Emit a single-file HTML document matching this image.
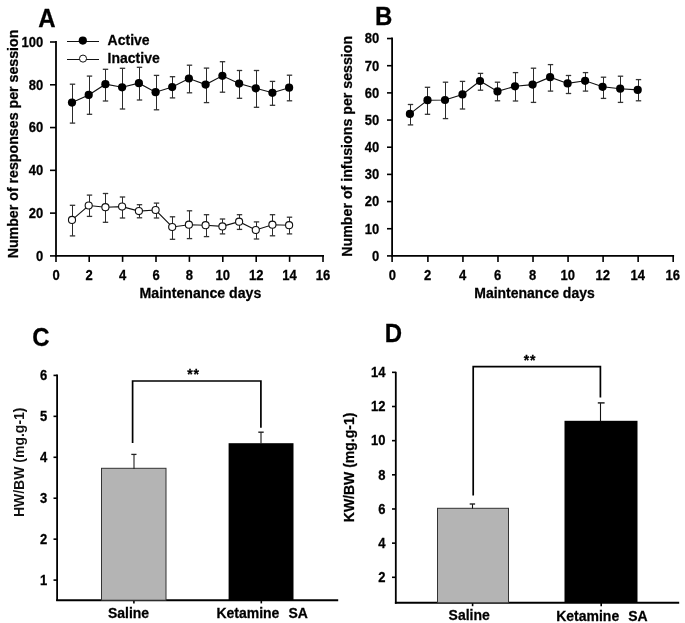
<!DOCTYPE html>
<html><head><meta charset="utf-8"><style>
html,body{margin:0;padding:0;background:#fff;width:685px;height:623px;overflow:hidden;}
svg{display:block;will-change:transform;filter:blur(0.35px);}
text{font-family:"Liberation Sans", sans-serif;stroke:#000;stroke-width:0.25px;}
</style></head><body>
<svg width="685" height="623" viewBox="0 0 685 623">
<rect width="685" height="623" fill="#fff"/>
<text transform="translate(38.20,26.80) scale(1,1.05)" font-size="24" font-weight="bold" text-anchor="start" >A</text>
<line x1="56" y1="41.1" x2="56" y2="256.8" stroke="#000" stroke-width="1.8"/>
<line x1="50" y1="255.9" x2="56" y2="255.9" stroke="#000" stroke-width="1.6"/>
<text transform="translate(43.30,260.70) scale(1,1.12)" font-size="13" font-weight="bold" text-anchor="end" >0</text>
<line x1="50" y1="213.12" x2="56" y2="213.12" stroke="#000" stroke-width="1.6"/>
<text transform="translate(43.30,217.92) scale(1,1.12)" font-size="13" font-weight="bold" text-anchor="end" >20</text>
<line x1="50" y1="170.34" x2="56" y2="170.34" stroke="#000" stroke-width="1.6"/>
<text transform="translate(43.30,175.14) scale(1,1.12)" font-size="13" font-weight="bold" text-anchor="end" >40</text>
<line x1="50" y1="127.56" x2="56" y2="127.56" stroke="#000" stroke-width="1.6"/>
<text transform="translate(43.30,132.36) scale(1,1.12)" font-size="13" font-weight="bold" text-anchor="end" >60</text>
<line x1="50" y1="84.78" x2="56" y2="84.78" stroke="#000" stroke-width="1.6"/>
<text transform="translate(43.30,89.58) scale(1,1.12)" font-size="13" font-weight="bold" text-anchor="end" >80</text>
<line x1="50" y1="42" x2="56" y2="42" stroke="#000" stroke-width="1.6"/>
<text transform="translate(43.30,46.80) scale(1,1.12)" font-size="13" font-weight="bold" text-anchor="end" >100</text>
<line x1="55.1" y1="255.9" x2="324" y2="255.9" stroke="#000" stroke-width="1.8"/>
<line x1="56" y1="255.9" x2="56" y2="261.9" stroke="#000" stroke-width="1.6"/>
<text transform="translate(56.00,280.20) scale(1,1.12)" font-size="13" font-weight="bold" text-anchor="middle" >0</text>
<line x1="89.2" y1="255.9" x2="89.2" y2="261.9" stroke="#000" stroke-width="1.6"/>
<text transform="translate(89.20,280.20) scale(1,1.12)" font-size="13" font-weight="bold" text-anchor="middle" >2</text>
<line x1="122.6" y1="255.9" x2="122.6" y2="261.9" stroke="#000" stroke-width="1.6"/>
<text transform="translate(122.60,280.20) scale(1,1.12)" font-size="13" font-weight="bold" text-anchor="middle" >4</text>
<line x1="156" y1="255.9" x2="156" y2="261.9" stroke="#000" stroke-width="1.6"/>
<text transform="translate(156.00,280.20) scale(1,1.12)" font-size="13" font-weight="bold" text-anchor="middle" >6</text>
<line x1="189.4" y1="255.9" x2="189.4" y2="261.9" stroke="#000" stroke-width="1.6"/>
<text transform="translate(189.40,280.20) scale(1,1.12)" font-size="13" font-weight="bold" text-anchor="middle" >8</text>
<line x1="222.8" y1="255.9" x2="222.8" y2="261.9" stroke="#000" stroke-width="1.6"/>
<text transform="translate(222.80,280.20) scale(1,1.12)" font-size="13" font-weight="bold" text-anchor="middle" >10</text>
<line x1="256.2" y1="255.9" x2="256.2" y2="261.9" stroke="#000" stroke-width="1.6"/>
<text transform="translate(256.20,280.20) scale(1,1.12)" font-size="13" font-weight="bold" text-anchor="middle" >12</text>
<line x1="289.6" y1="255.9" x2="289.6" y2="261.9" stroke="#000" stroke-width="1.6"/>
<text transform="translate(289.60,280.20) scale(1,1.12)" font-size="13" font-weight="bold" text-anchor="middle" >14</text>
<line x1="323" y1="255.9" x2="323" y2="261.9" stroke="#000" stroke-width="1.6"/>
<text transform="translate(323.00,280.20) scale(1,1.12)" font-size="13" font-weight="bold" text-anchor="middle" >16</text>
<text transform="translate(200.40,297.60) scale(1,1.05)" font-size="14.15" font-weight="bold" text-anchor="middle" >Maintenance days</text>
<text transform="translate(17.60,144.00) rotate(-90) scale(1,1.05)" font-size="14.2" font-weight="bold" text-anchor="middle" >Number of responses per session</text>
<polyline points="72.05,102.6 88.75,94.9 105.45,84.2 122.15,87.3 138.85,83.2 155.55,92.2 172.25,87.1 188.95,78.5 205.65,84.6 222.35,75.8 239.05,83.6 255.75,88.3 272.45,92.8 289.15,87.7" fill="none" stroke="#111" stroke-width="1.1"/>
<line x1="72.5" y1="84.2" x2="72.5" y2="123.1" stroke="#2a2a2a" stroke-width="1.0"/>
<line x1="69.8" y1="84.2" x2="75.2" y2="84.2" stroke="#333" stroke-width="1.3"/>
<line x1="69.8" y1="123.1" x2="75.2" y2="123.1" stroke="#333" stroke-width="1.3"/>
<line x1="89.5" y1="76.1" x2="89.5" y2="114.3" stroke="#2a2a2a" stroke-width="1.0"/>
<line x1="86.8" y1="76.1" x2="92.2" y2="76.1" stroke="#333" stroke-width="1.3"/>
<line x1="86.8" y1="114.3" x2="92.2" y2="114.3" stroke="#333" stroke-width="1.3"/>
<line x1="105.5" y1="69.3" x2="105.5" y2="101" stroke="#2a2a2a" stroke-width="1.0"/>
<line x1="102.8" y1="69.3" x2="108.2" y2="69.3" stroke="#333" stroke-width="1.3"/>
<line x1="102.8" y1="101" x2="108.2" y2="101" stroke="#333" stroke-width="1.3"/>
<line x1="122.5" y1="68.3" x2="122.5" y2="109" stroke="#2a2a2a" stroke-width="1.0"/>
<line x1="119.8" y1="68.3" x2="125.2" y2="68.3" stroke="#333" stroke-width="1.3"/>
<line x1="119.8" y1="109" x2="125.2" y2="109" stroke="#333" stroke-width="1.3"/>
<line x1="139.5" y1="67.3" x2="139.5" y2="100" stroke="#2a2a2a" stroke-width="1.0"/>
<line x1="136.8" y1="67.3" x2="142.2" y2="67.3" stroke="#333" stroke-width="1.3"/>
<line x1="136.8" y1="100" x2="142.2" y2="100" stroke="#333" stroke-width="1.3"/>
<line x1="156.5" y1="75.4" x2="156.5" y2="109.8" stroke="#2a2a2a" stroke-width="1.0"/>
<line x1="153.8" y1="75.4" x2="159.2" y2="75.4" stroke="#333" stroke-width="1.3"/>
<line x1="153.8" y1="109.8" x2="159.2" y2="109.8" stroke="#333" stroke-width="1.3"/>
<line x1="172.5" y1="76.7" x2="172.5" y2="97.9" stroke="#2a2a2a" stroke-width="1.0"/>
<line x1="169.8" y1="76.7" x2="175.2" y2="76.7" stroke="#333" stroke-width="1.3"/>
<line x1="169.8" y1="97.9" x2="175.2" y2="97.9" stroke="#333" stroke-width="1.3"/>
<line x1="189.5" y1="65.2" x2="189.5" y2="92.8" stroke="#2a2a2a" stroke-width="1.0"/>
<line x1="186.8" y1="65.2" x2="192.2" y2="65.2" stroke="#333" stroke-width="1.3"/>
<line x1="186.8" y1="92.8" x2="192.2" y2="92.8" stroke="#333" stroke-width="1.3"/>
<line x1="206.5" y1="68.1" x2="206.5" y2="102.6" stroke="#2a2a2a" stroke-width="1.0"/>
<line x1="203.8" y1="68.1" x2="209.2" y2="68.1" stroke="#333" stroke-width="1.3"/>
<line x1="203.8" y1="102.6" x2="209.2" y2="102.6" stroke="#333" stroke-width="1.3"/>
<line x1="222.5" y1="61.7" x2="222.5" y2="92.2" stroke="#2a2a2a" stroke-width="1.0"/>
<line x1="219.8" y1="61.7" x2="225.2" y2="61.7" stroke="#333" stroke-width="1.3"/>
<line x1="219.8" y1="92.2" x2="225.2" y2="92.2" stroke="#333" stroke-width="1.3"/>
<line x1="239.5" y1="70.5" x2="239.5" y2="98.3" stroke="#2a2a2a" stroke-width="1.0"/>
<line x1="236.8" y1="70.5" x2="242.2" y2="70.5" stroke="#333" stroke-width="1.3"/>
<line x1="236.8" y1="98.3" x2="242.2" y2="98.3" stroke="#333" stroke-width="1.3"/>
<line x1="256.5" y1="70.5" x2="256.5" y2="107.3" stroke="#2a2a2a" stroke-width="1.0"/>
<line x1="253.8" y1="70.5" x2="259.2" y2="70.5" stroke="#333" stroke-width="1.3"/>
<line x1="253.8" y1="107.3" x2="259.2" y2="107.3" stroke="#333" stroke-width="1.3"/>
<line x1="272.5" y1="81.4" x2="272.5" y2="105.3" stroke="#2a2a2a" stroke-width="1.0"/>
<line x1="269.8" y1="81.4" x2="275.2" y2="81.4" stroke="#333" stroke-width="1.3"/>
<line x1="269.8" y1="105.3" x2="275.2" y2="105.3" stroke="#333" stroke-width="1.3"/>
<line x1="289.5" y1="75.2" x2="289.5" y2="100.8" stroke="#2a2a2a" stroke-width="1.0"/>
<line x1="286.8" y1="75.2" x2="292.2" y2="75.2" stroke="#333" stroke-width="1.3"/>
<line x1="286.8" y1="100.8" x2="292.2" y2="100.8" stroke="#333" stroke-width="1.3"/>
<circle cx="72.0" cy="102.6" r="4.1" fill="#000"/>
<circle cx="88.7" cy="94.9" r="4.1" fill="#000"/>
<circle cx="105.4" cy="84.2" r="4.1" fill="#000"/>
<circle cx="122.1" cy="87.3" r="4.1" fill="#000"/>
<circle cx="138.9" cy="83.2" r="4.1" fill="#000"/>
<circle cx="155.6" cy="92.2" r="4.1" fill="#000"/>
<circle cx="172.2" cy="87.1" r="4.1" fill="#000"/>
<circle cx="188.9" cy="78.5" r="4.1" fill="#000"/>
<circle cx="205.6" cy="84.6" r="4.1" fill="#000"/>
<circle cx="222.4" cy="75.8" r="4.1" fill="#000"/>
<circle cx="239.1" cy="83.6" r="4.1" fill="#000"/>
<circle cx="255.8" cy="88.3" r="4.1" fill="#000"/>
<circle cx="272.4" cy="92.8" r="4.1" fill="#000"/>
<circle cx="289.1" cy="87.7" r="4.1" fill="#000"/>
<polyline points="72.05,219.9 88.75,205.5 105.45,207.2 122.15,206.6 138.85,211.1 155.55,210 172.25,227 188.95,224.7 205.65,225.2 222.35,226.4 239.05,221.7 255.75,230 272.45,224.7 289.15,225.2" fill="none" stroke="#111" stroke-width="1.1"/>
<line x1="72.5" y1="205.3" x2="72.5" y2="235.9" stroke="#2a2a2a" stroke-width="1.0"/>
<line x1="69.8" y1="205.3" x2="75.2" y2="205.3" stroke="#333" stroke-width="1.3"/>
<line x1="69.8" y1="235.9" x2="75.2" y2="235.9" stroke="#333" stroke-width="1.3"/>
<line x1="89.5" y1="195.1" x2="89.5" y2="216.4" stroke="#2a2a2a" stroke-width="1.0"/>
<line x1="86.8" y1="195.1" x2="92.2" y2="195.1" stroke="#333" stroke-width="1.3"/>
<line x1="86.8" y1="216.4" x2="92.2" y2="216.4" stroke="#333" stroke-width="1.3"/>
<line x1="105.5" y1="193.5" x2="105.5" y2="222.3" stroke="#2a2a2a" stroke-width="1.0"/>
<line x1="102.8" y1="193.5" x2="108.2" y2="193.5" stroke="#333" stroke-width="1.3"/>
<line x1="102.8" y1="222.3" x2="108.2" y2="222.3" stroke="#333" stroke-width="1.3"/>
<line x1="122.5" y1="197" x2="122.5" y2="218" stroke="#2a2a2a" stroke-width="1.0"/>
<line x1="119.8" y1="197" x2="125.2" y2="197" stroke="#333" stroke-width="1.3"/>
<line x1="119.8" y1="218" x2="125.2" y2="218" stroke="#333" stroke-width="1.3"/>
<line x1="139.5" y1="204.7" x2="139.5" y2="217.8" stroke="#2a2a2a" stroke-width="1.0"/>
<line x1="136.8" y1="204.7" x2="142.2" y2="204.7" stroke="#333" stroke-width="1.3"/>
<line x1="136.8" y1="217.8" x2="142.2" y2="217.8" stroke="#333" stroke-width="1.3"/>
<line x1="156.5" y1="203.1" x2="156.5" y2="218" stroke="#2a2a2a" stroke-width="1.0"/>
<line x1="153.8" y1="203.1" x2="159.2" y2="203.1" stroke="#333" stroke-width="1.3"/>
<line x1="153.8" y1="218" x2="159.2" y2="218" stroke="#333" stroke-width="1.3"/>
<line x1="172.5" y1="216.8" x2="172.5" y2="239.3" stroke="#2a2a2a" stroke-width="1.0"/>
<line x1="169.8" y1="216.8" x2="175.2" y2="216.8" stroke="#333" stroke-width="1.3"/>
<line x1="169.8" y1="239.3" x2="175.2" y2="239.3" stroke="#333" stroke-width="1.3"/>
<line x1="189.5" y1="210.8" x2="189.5" y2="238.6" stroke="#2a2a2a" stroke-width="1.0"/>
<line x1="186.8" y1="210.8" x2="192.2" y2="210.8" stroke="#333" stroke-width="1.3"/>
<line x1="186.8" y1="238.6" x2="192.2" y2="238.6" stroke="#333" stroke-width="1.3"/>
<line x1="206.5" y1="214.7" x2="206.5" y2="236.6" stroke="#2a2a2a" stroke-width="1.0"/>
<line x1="203.8" y1="214.7" x2="209.2" y2="214.7" stroke="#333" stroke-width="1.3"/>
<line x1="203.8" y1="236.6" x2="209.2" y2="236.6" stroke="#333" stroke-width="1.3"/>
<line x1="222.5" y1="219" x2="222.5" y2="233.9" stroke="#2a2a2a" stroke-width="1.0"/>
<line x1="219.8" y1="219" x2="225.2" y2="219" stroke="#333" stroke-width="1.3"/>
<line x1="219.8" y1="233.9" x2="225.2" y2="233.9" stroke="#333" stroke-width="1.3"/>
<line x1="239.5" y1="214.7" x2="239.5" y2="229.4" stroke="#2a2a2a" stroke-width="1.0"/>
<line x1="236.8" y1="214.7" x2="242.2" y2="214.7" stroke="#333" stroke-width="1.3"/>
<line x1="236.8" y1="229.4" x2="242.2" y2="229.4" stroke="#333" stroke-width="1.3"/>
<line x1="256.5" y1="221.9" x2="256.5" y2="239" stroke="#2a2a2a" stroke-width="1.0"/>
<line x1="253.8" y1="221.9" x2="259.2" y2="221.9" stroke="#333" stroke-width="1.3"/>
<line x1="253.8" y1="239" x2="259.2" y2="239" stroke="#333" stroke-width="1.3"/>
<line x1="272.5" y1="214.7" x2="272.5" y2="235.8" stroke="#2a2a2a" stroke-width="1.0"/>
<line x1="269.8" y1="214.7" x2="275.2" y2="214.7" stroke="#333" stroke-width="1.3"/>
<line x1="269.8" y1="235.8" x2="275.2" y2="235.8" stroke="#333" stroke-width="1.3"/>
<line x1="289.5" y1="217.2" x2="289.5" y2="233.9" stroke="#2a2a2a" stroke-width="1.0"/>
<line x1="286.8" y1="217.2" x2="292.2" y2="217.2" stroke="#333" stroke-width="1.3"/>
<line x1="286.8" y1="233.9" x2="292.2" y2="233.9" stroke="#333" stroke-width="1.3"/>
<circle cx="72.0" cy="219.9" r="3.55" fill="#fff" stroke="#111" stroke-width="1.1"/>
<circle cx="88.7" cy="205.5" r="3.55" fill="#fff" stroke="#111" stroke-width="1.1"/>
<circle cx="105.4" cy="207.2" r="3.55" fill="#fff" stroke="#111" stroke-width="1.1"/>
<circle cx="122.1" cy="206.6" r="3.55" fill="#fff" stroke="#111" stroke-width="1.1"/>
<circle cx="138.9" cy="211.1" r="3.55" fill="#fff" stroke="#111" stroke-width="1.1"/>
<circle cx="155.6" cy="210" r="3.55" fill="#fff" stroke="#111" stroke-width="1.1"/>
<circle cx="172.2" cy="227" r="3.55" fill="#fff" stroke="#111" stroke-width="1.1"/>
<circle cx="188.9" cy="224.7" r="3.55" fill="#fff" stroke="#111" stroke-width="1.1"/>
<circle cx="205.6" cy="225.2" r="3.55" fill="#fff" stroke="#111" stroke-width="1.1"/>
<circle cx="222.4" cy="226.4" r="3.55" fill="#fff" stroke="#111" stroke-width="1.1"/>
<circle cx="239.1" cy="221.7" r="3.55" fill="#fff" stroke="#111" stroke-width="1.1"/>
<circle cx="255.8" cy="230" r="3.55" fill="#fff" stroke="#111" stroke-width="1.1"/>
<circle cx="272.4" cy="224.7" r="3.55" fill="#fff" stroke="#111" stroke-width="1.1"/>
<circle cx="289.1" cy="225.2" r="3.55" fill="#fff" stroke="#111" stroke-width="1.1"/>
<line x1="67" y1="41.5" x2="99" y2="41.5" stroke="#111" stroke-width="1.0"/>
<circle cx="82.8" cy="40.6" r="4.1" fill="#000"/>
<line x1="67" y1="59.5" x2="99" y2="59.5" stroke="#111" stroke-width="1.0"/>
<circle cx="83" cy="58.6" r="3.55" fill="#fff" stroke="#111" stroke-width="1.0"/>
<text transform="translate(107.60,45.20) scale(1,1.05)" font-size="14" font-weight="bold" text-anchor="start" >Active</text>
<text transform="translate(107.60,63.20) scale(1,1.05)" font-size="14" font-weight="bold" text-anchor="start" >Inactive</text>
<text transform="translate(374.90,24.60) scale(1,1.05)" font-size="24" font-weight="bold" text-anchor="start" >B</text>
<line x1="392.1" y1="37.4" x2="392.1" y2="256.8" stroke="#000" stroke-width="1.8"/>
<line x1="387" y1="255.9" x2="392.1" y2="255.9" stroke="#000" stroke-width="1.6"/>
<text transform="translate(379.30,260.70) scale(1,1.12)" font-size="13" font-weight="bold" text-anchor="end" >0</text>
<line x1="387" y1="228.73" x2="392.1" y2="228.73" stroke="#000" stroke-width="1.6"/>
<text transform="translate(379.30,233.53) scale(1,1.12)" font-size="13" font-weight="bold" text-anchor="end" >10</text>
<line x1="387" y1="201.56" x2="392.1" y2="201.56" stroke="#000" stroke-width="1.6"/>
<text transform="translate(379.30,206.36) scale(1,1.12)" font-size="13" font-weight="bold" text-anchor="end" >20</text>
<line x1="387" y1="174.39" x2="392.1" y2="174.39" stroke="#000" stroke-width="1.6"/>
<text transform="translate(379.30,179.19) scale(1,1.12)" font-size="13" font-weight="bold" text-anchor="end" >30</text>
<line x1="387" y1="147.22" x2="392.1" y2="147.22" stroke="#000" stroke-width="1.6"/>
<text transform="translate(379.30,152.02) scale(1,1.12)" font-size="13" font-weight="bold" text-anchor="end" >40</text>
<line x1="387" y1="120.05" x2="392.1" y2="120.05" stroke="#000" stroke-width="1.6"/>
<text transform="translate(379.30,124.85) scale(1,1.12)" font-size="13" font-weight="bold" text-anchor="end" >50</text>
<line x1="387" y1="92.88" x2="392.1" y2="92.88" stroke="#000" stroke-width="1.6"/>
<text transform="translate(379.30,97.68) scale(1,1.12)" font-size="13" font-weight="bold" text-anchor="end" >60</text>
<line x1="387" y1="65.71" x2="392.1" y2="65.71" stroke="#000" stroke-width="1.6"/>
<text transform="translate(379.30,70.51) scale(1,1.12)" font-size="13" font-weight="bold" text-anchor="end" >70</text>
<line x1="387" y1="38.54" x2="392.1" y2="38.54" stroke="#000" stroke-width="1.6"/>
<text transform="translate(379.30,43.34) scale(1,1.12)" font-size="13" font-weight="bold" text-anchor="end" >80</text>
<line x1="391.2" y1="255.9" x2="674.1" y2="255.9" stroke="#000" stroke-width="1.8"/>
<line x1="392.1" y1="255.9" x2="392.1" y2="261.9" stroke="#000" stroke-width="1.6"/>
<text transform="translate(392.46,280.20) scale(1,1.12)" font-size="13" font-weight="bold" text-anchor="middle" >0</text>
<line x1="427.9" y1="255.9" x2="427.9" y2="261.9" stroke="#000" stroke-width="1.6"/>
<text transform="translate(427.50,280.20) scale(1,1.12)" font-size="13" font-weight="bold" text-anchor="middle" >2</text>
<line x1="462.94" y1="255.9" x2="462.94" y2="261.9" stroke="#000" stroke-width="1.6"/>
<text transform="translate(462.54,280.20) scale(1,1.12)" font-size="13" font-weight="bold" text-anchor="middle" >4</text>
<line x1="497.98" y1="255.9" x2="497.98" y2="261.9" stroke="#000" stroke-width="1.6"/>
<text transform="translate(497.58,280.20) scale(1,1.12)" font-size="13" font-weight="bold" text-anchor="middle" >6</text>
<line x1="533.02" y1="255.9" x2="533.02" y2="261.9" stroke="#000" stroke-width="1.6"/>
<text transform="translate(532.62,280.20) scale(1,1.12)" font-size="13" font-weight="bold" text-anchor="middle" >8</text>
<line x1="568.06" y1="255.9" x2="568.06" y2="261.9" stroke="#000" stroke-width="1.6"/>
<text transform="translate(567.66,280.20) scale(1,1.12)" font-size="13" font-weight="bold" text-anchor="middle" >10</text>
<line x1="603.1" y1="255.9" x2="603.1" y2="261.9" stroke="#000" stroke-width="1.6"/>
<text transform="translate(602.70,280.20) scale(1,1.12)" font-size="13" font-weight="bold" text-anchor="middle" >12</text>
<line x1="638.14" y1="255.9" x2="638.14" y2="261.9" stroke="#000" stroke-width="1.6"/>
<text transform="translate(637.74,280.20) scale(1,1.12)" font-size="13" font-weight="bold" text-anchor="middle" >14</text>
<line x1="673.18" y1="255.9" x2="673.18" y2="261.9" stroke="#000" stroke-width="1.6"/>
<text transform="translate(672.78,280.20) scale(1,1.12)" font-size="13" font-weight="bold" text-anchor="middle" >16</text>
<text transform="translate(534.50,297.60) scale(1,1.05)" font-size="14" font-weight="bold" text-anchor="middle" >Maintenance days</text>
<text transform="translate(352.00,146.30) rotate(-90) scale(1,1.05)" font-size="14.2" font-weight="bold" text-anchor="middle" >Number of infusions per session</text>
<polyline points="409.93,113.9 427.45,100.2 444.97,100 462.49,94.4 480.01,81 497.53,91.4 515.05,86.3 532.57,84.6 550.09,77.2 567.61,83.4 585.13,80.8 602.65,86.8 620.17,88.7 637.69,89.9" fill="none" stroke="#111" stroke-width="1.1"/>
<line x1="410.5" y1="104.5" x2="410.5" y2="124.9" stroke="#2a2a2a" stroke-width="1.0"/>
<line x1="407.8" y1="104.5" x2="413.2" y2="104.5" stroke="#333" stroke-width="1.3"/>
<line x1="407.8" y1="124.9" x2="413.2" y2="124.9" stroke="#333" stroke-width="1.3"/>
<line x1="427.5" y1="87.3" x2="427.5" y2="114.3" stroke="#2a2a2a" stroke-width="1.0"/>
<line x1="424.8" y1="87.3" x2="430.2" y2="87.3" stroke="#333" stroke-width="1.3"/>
<line x1="424.8" y1="114.3" x2="430.2" y2="114.3" stroke="#333" stroke-width="1.3"/>
<line x1="445.5" y1="82.2" x2="445.5" y2="118.6" stroke="#2a2a2a" stroke-width="1.0"/>
<line x1="442.8" y1="82.2" x2="448.2" y2="82.2" stroke="#333" stroke-width="1.3"/>
<line x1="442.8" y1="118.6" x2="448.2" y2="118.6" stroke="#333" stroke-width="1.3"/>
<line x1="462.5" y1="81.4" x2="462.5" y2="109" stroke="#2a2a2a" stroke-width="1.0"/>
<line x1="459.8" y1="81.4" x2="465.2" y2="81.4" stroke="#333" stroke-width="1.3"/>
<line x1="459.8" y1="109" x2="465.2" y2="109" stroke="#333" stroke-width="1.3"/>
<line x1="480.5" y1="73.4" x2="480.5" y2="90.2" stroke="#2a2a2a" stroke-width="1.0"/>
<line x1="477.8" y1="73.4" x2="483.2" y2="73.4" stroke="#333" stroke-width="1.3"/>
<line x1="477.8" y1="90.2" x2="483.2" y2="90.2" stroke="#333" stroke-width="1.3"/>
<line x1="497.5" y1="82.2" x2="497.5" y2="100.8" stroke="#2a2a2a" stroke-width="1.0"/>
<line x1="494.8" y1="82.2" x2="500.2" y2="82.2" stroke="#333" stroke-width="1.3"/>
<line x1="494.8" y1="100.8" x2="500.2" y2="100.8" stroke="#333" stroke-width="1.3"/>
<line x1="515.5" y1="72.6" x2="515.5" y2="101" stroke="#2a2a2a" stroke-width="1.0"/>
<line x1="512.8" y1="72.6" x2="518.2" y2="72.6" stroke="#333" stroke-width="1.3"/>
<line x1="512.8" y1="101" x2="518.2" y2="101" stroke="#333" stroke-width="1.3"/>
<line x1="533.5" y1="68.2" x2="533.5" y2="102.4" stroke="#2a2a2a" stroke-width="1.0"/>
<line x1="530.8" y1="68.2" x2="536.2" y2="68.2" stroke="#333" stroke-width="1.3"/>
<line x1="530.8" y1="102.4" x2="536.2" y2="102.4" stroke="#333" stroke-width="1.3"/>
<line x1="550.5" y1="64.6" x2="550.5" y2="91.1" stroke="#2a2a2a" stroke-width="1.0"/>
<line x1="547.8" y1="64.6" x2="553.2" y2="64.6" stroke="#333" stroke-width="1.3"/>
<line x1="547.8" y1="91.1" x2="553.2" y2="91.1" stroke="#333" stroke-width="1.3"/>
<line x1="568.5" y1="75.5" x2="568.5" y2="93.5" stroke="#2a2a2a" stroke-width="1.0"/>
<line x1="565.8" y1="75.5" x2="571.2" y2="75.5" stroke="#333" stroke-width="1.3"/>
<line x1="565.8" y1="93.5" x2="571.2" y2="93.5" stroke="#333" stroke-width="1.3"/>
<line x1="585.5" y1="72.6" x2="585.5" y2="91.1" stroke="#2a2a2a" stroke-width="1.0"/>
<line x1="582.8" y1="72.6" x2="588.2" y2="72.6" stroke="#333" stroke-width="1.3"/>
<line x1="582.8" y1="91.1" x2="588.2" y2="91.1" stroke="#333" stroke-width="1.3"/>
<line x1="603.5" y1="77.2" x2="603.5" y2="98.4" stroke="#2a2a2a" stroke-width="1.0"/>
<line x1="600.8" y1="77.2" x2="606.2" y2="77.2" stroke="#333" stroke-width="1.3"/>
<line x1="600.8" y1="98.4" x2="606.2" y2="98.4" stroke="#333" stroke-width="1.3"/>
<line x1="620.5" y1="76.2" x2="620.5" y2="102.4" stroke="#2a2a2a" stroke-width="1.0"/>
<line x1="617.8" y1="76.2" x2="623.2" y2="76.2" stroke="#333" stroke-width="1.3"/>
<line x1="617.8" y1="102.4" x2="623.2" y2="102.4" stroke="#333" stroke-width="1.3"/>
<line x1="638.5" y1="79.6" x2="638.5" y2="100.8" stroke="#2a2a2a" stroke-width="1.0"/>
<line x1="635.8" y1="79.6" x2="641.2" y2="79.6" stroke="#333" stroke-width="1.3"/>
<line x1="635.8" y1="100.8" x2="641.2" y2="100.8" stroke="#333" stroke-width="1.3"/>
<circle cx="409.9" cy="113.9" r="4.1" fill="#000"/>
<circle cx="427.5" cy="100.2" r="4.1" fill="#000"/>
<circle cx="445.0" cy="100" r="4.1" fill="#000"/>
<circle cx="462.5" cy="94.4" r="4.1" fill="#000"/>
<circle cx="480.0" cy="81" r="4.1" fill="#000"/>
<circle cx="497.5" cy="91.4" r="4.1" fill="#000"/>
<circle cx="515.0" cy="86.3" r="4.1" fill="#000"/>
<circle cx="532.6" cy="84.6" r="4.1" fill="#000"/>
<circle cx="550.1" cy="77.2" r="4.1" fill="#000"/>
<circle cx="567.6" cy="83.4" r="4.1" fill="#000"/>
<circle cx="585.1" cy="80.8" r="4.1" fill="#000"/>
<circle cx="602.6" cy="86.8" r="4.1" fill="#000"/>
<circle cx="620.2" cy="88.7" r="4.1" fill="#000"/>
<circle cx="637.7" cy="89.9" r="4.1" fill="#000"/>
<text transform="translate(32.20,346.20) scale(1,1.05)" font-size="24" font-weight="bold" text-anchor="start" >C</text>
<line x1="57.1" y1="374.6" x2="57.1" y2="601.1" stroke="#000" stroke-width="1.8"/>
<line x1="53.5" y1="580.1" x2="57.1" y2="580.1" stroke="#000" stroke-width="1.6"/>
<text transform="translate(47.20,584.90) scale(1,1.12)" font-size="13" font-weight="bold" text-anchor="end" >1</text>
<line x1="53.5" y1="539.16" x2="57.1" y2="539.16" stroke="#000" stroke-width="1.6"/>
<text transform="translate(47.20,543.96) scale(1,1.12)" font-size="13" font-weight="bold" text-anchor="end" >2</text>
<line x1="53.5" y1="498.22" x2="57.1" y2="498.22" stroke="#000" stroke-width="1.6"/>
<text transform="translate(47.20,503.02) scale(1,1.12)" font-size="13" font-weight="bold" text-anchor="end" >3</text>
<line x1="53.5" y1="457.28" x2="57.1" y2="457.28" stroke="#000" stroke-width="1.6"/>
<text transform="translate(47.20,462.08) scale(1,1.12)" font-size="13" font-weight="bold" text-anchor="end" >4</text>
<line x1="53.5" y1="416.34" x2="57.1" y2="416.34" stroke="#000" stroke-width="1.6"/>
<text transform="translate(47.20,421.14) scale(1,1.12)" font-size="13" font-weight="bold" text-anchor="end" >5</text>
<line x1="53.5" y1="375.4" x2="57.1" y2="375.4" stroke="#000" stroke-width="1.6"/>
<text transform="translate(47.20,380.20) scale(1,1.12)" font-size="13" font-weight="bold" text-anchor="end" >6</text>
<line x1="56.2" y1="600.2" x2="338.2" y2="600.2" stroke="#000" stroke-width="1.9"/>
<line x1="133.9" y1="600.2" x2="133.9" y2="603.4" stroke="#000" stroke-width="1.6"/>
<line x1="261.3" y1="600.2" x2="261.3" y2="603.4" stroke="#000" stroke-width="1.6"/>
<rect x="101.5" y="468.3" width="64.5" height="131.90000000000003" fill="#b4b4b4" stroke="#333" stroke-width="1"/>
<rect x="228.6" y="443.2" width="64.9" height="157.00000000000006" fill="#000"/>
<line x1="134" y1="454.4" x2="134" y2="468.9" stroke="#222" stroke-width="1.1"/>
<line x1="131.3" y1="454.4" x2="136.5" y2="454.4" stroke="#222" stroke-width="1.3"/>
<line x1="261" y1="432.2" x2="261" y2="443.4" stroke="#111" stroke-width="1.1"/>
<line x1="258.3" y1="432.2" x2="263.7" y2="432.2" stroke="#222" stroke-width="1.4"/>
<polyline points="132.6,443 132.6,381 260.9,381 260.9,427.7" fill="none" stroke="#000" stroke-width="1.7"/>
<text transform="translate(193.60,378.60) scale(1,1.05)" font-size="14" font-weight="bold" text-anchor="middle" letter-spacing="1">**</text>
<text transform="translate(128.50,617.50) scale(1,1.05)" font-size="14" font-weight="bold" text-anchor="middle" >Saline</text>
<text transform="translate(216.40,617.50) scale(1,1.05)" font-size="14" font-weight="bold" text-anchor="start" >Ketamine</text>
<text transform="translate(288.40,617.50) scale(1,1.05)" font-size="14" font-weight="bold" text-anchor="start" >SA</text>
<text transform="translate(24.00,462.30) rotate(-90) scale(1,1.05)" font-size="14" font-weight="bold" text-anchor="middle" style="stroke:none;fill:#111">HW/BW (mg.g-1)</text>
<text transform="translate(384.80,341.80) scale(1,1.05)" font-size="24" font-weight="bold" text-anchor="start" >D</text>
<line x1="395.8" y1="371.8" x2="395.8" y2="603.7" stroke="#000" stroke-width="1.8"/>
<line x1="392" y1="577.3" x2="395.8" y2="577.3" stroke="#000" stroke-width="1.6"/>
<text transform="translate(385.50,582.10) scale(1,1.12)" font-size="13" font-weight="bold" text-anchor="end" >2</text>
<line x1="392" y1="543.14" x2="395.8" y2="543.14" stroke="#000" stroke-width="1.6"/>
<text transform="translate(385.50,547.94) scale(1,1.12)" font-size="13" font-weight="bold" text-anchor="end" >4</text>
<line x1="392" y1="508.98" x2="395.8" y2="508.98" stroke="#000" stroke-width="1.6"/>
<text transform="translate(385.50,513.78) scale(1,1.12)" font-size="13" font-weight="bold" text-anchor="end" >6</text>
<line x1="392" y1="474.82" x2="395.8" y2="474.82" stroke="#000" stroke-width="1.6"/>
<text transform="translate(385.50,479.62) scale(1,1.12)" font-size="13" font-weight="bold" text-anchor="end" >8</text>
<line x1="392" y1="440.66" x2="395.8" y2="440.66" stroke="#000" stroke-width="1.6"/>
<text transform="translate(385.50,445.46) scale(1,1.12)" font-size="13" font-weight="bold" text-anchor="end" >10</text>
<line x1="392" y1="406.5" x2="395.8" y2="406.5" stroke="#000" stroke-width="1.6"/>
<text transform="translate(385.50,411.30) scale(1,1.12)" font-size="13" font-weight="bold" text-anchor="end" >12</text>
<line x1="392" y1="372.34" x2="395.8" y2="372.34" stroke="#000" stroke-width="1.6"/>
<text transform="translate(385.50,377.14) scale(1,1.12)" font-size="13" font-weight="bold" text-anchor="end" >14</text>
<line x1="394.9" y1="602.8" x2="679.2" y2="602.8" stroke="#000" stroke-width="1.9"/>
<line x1="472.6" y1="602.8" x2="472.6" y2="606.2" stroke="#000" stroke-width="1.6"/>
<line x1="601.2" y1="602.8" x2="601.2" y2="606.2" stroke="#000" stroke-width="1.6"/>
<rect x="437.5" y="508.3" width="71" height="94.49999999999994" fill="#b4b4b4" stroke="#333" stroke-width="1"/>
<rect x="564.5" y="420.8" width="73" height="181.99999999999994" fill="#000"/>
<line x1="472.5" y1="504" x2="472.5" y2="508.6" stroke="#111" stroke-width="1.1"/>
<line x1="469.7" y1="504" x2="475.1" y2="504" stroke="#222" stroke-width="1.4"/>
<line x1="600.5" y1="402.9" x2="600.5" y2="421.5" stroke="#111" stroke-width="1.1"/>
<line x1="597.8" y1="402.9" x2="604.6" y2="402.9" stroke="#222" stroke-width="1.5"/>
<polyline points="473.2,495.5 473.2,366.7 600.4,366.7 600.4,397.5" fill="none" stroke="#000" stroke-width="1.7"/>
<text transform="translate(530.10,364.60) scale(1,1.05)" font-size="14" font-weight="bold" text-anchor="middle" letter-spacing="1">**</text>
<text transform="translate(469.20,620.20) scale(1,1.05)" font-size="14" font-weight="bold" text-anchor="middle" >Saline</text>
<text transform="translate(556.20,621.10) scale(1,1.05)" font-size="14" font-weight="bold" text-anchor="start" >Ketamine</text>
<text transform="translate(628.20,621.10) scale(1,1.05)" font-size="14" font-weight="bold" text-anchor="start" >SA</text>
<text transform="translate(354.10,467.40) rotate(-90) scale(1,1.05)" font-size="14" font-weight="bold" text-anchor="middle" >KW/BW (mg.g-1)</text>
</svg>
</body></html>
